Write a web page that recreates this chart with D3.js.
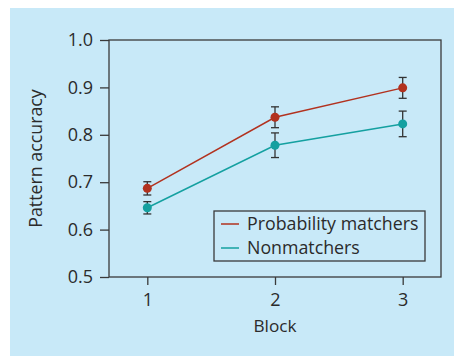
<!DOCTYPE html>
<html>
<head>
<meta charset="utf-8">
<script src="https://cdn.jsdelivr.net/npm/d3@7"></script>
<style>
  body { margin: 0; background: #fff; }
  svg text { font-family: "Open Sans", "DejaVu Sans", sans-serif; fill: #2b2b2b; }
</style>
</head>
<body>
<svg id="chart" width="454" height="356"></svg>
<script>
// chart data
var blocks = [1, 2, 3]
var matchers = [0.687, 0.837, 0.899]
var matchersErr = [0.014, 0.022, 0.022]
var nonmatchers = [0.646, 0.778, 0.823]
var nonmatchersErr = [0.013, 0.026, 0.027]
var yTicks = [0.5, 0.6, 0.7, 0.8, 0.9, 1.0]
var seriesNames = ["Probability matchers", "Nonmatchers"]
var seriesColors = ["#b2321f", "#14a0a0"]

var svg = d3.select("#chart");

// light blue panel
svg.append("rect")
    .attr("x", 10).attr("y", 8)
    .attr("width", 444).attr("height", 348)
    .attr("fill", "#c8e9f8");

var plotLeft = 109, plotRight = 441, plotTop = 40, plotBottom = 277;

var x = d3.scaleLinear().domain([0.7, 3.3]).range([plotLeft, plotRight]);
var y = d3.scaleLinear().domain([0.5, 1.0]).range([plotBottom, plotTop]);

// frame
svg.append("rect")
    .attr("x", plotLeft).attr("y", plotTop)
    .attr("width", plotRight - plotLeft).attr("height", plotBottom - plotTop)
    .attr("fill", "none")
    .attr("stroke", "#3a3a3a")
    .attr("stroke-width", 1.3);

var yAxis = svg.append("g")
    .attr("transform", "translate(" + plotLeft + ",0)")
    .call(d3.axisLeft(y).tickValues(yTicks).tickFormat(d3.format(".1f")).tickSize(9).tickPadding(7));

var xAxis = svg.append("g")
    .attr("transform", "translate(0," + plotBottom + ")")
    .call(d3.axisBottom(x).tickValues(blocks).tickFormat(d3.format("d")).tickSize(8).tickPadding(8));

[yAxis, xAxis].forEach(function(g) {
    g.select(".domain").remove();
    g.selectAll("line").attr("stroke", "#3a3a3a").attr("stroke-width", 1.3);
    g.selectAll("text").attr("font-size", 18).attr("fill", "#2b2b2b")
        .style("font-family", "'Open Sans', sans-serif");
});

// axis titles
svg.append("text")
    .attr("x", x(2)).attr("y", 332)
    .attr("text-anchor", "middle")
    .attr("font-size", 17.2)
    .text("Block");

svg.append("text")
    .attr("transform", "translate(42," + ((plotTop + plotBottom) / 2) + ") rotate(-90)")
    .attr("text-anchor", "middle")
    .attr("font-size", 17.8)
    .text("Pattern accuracy");

var series = [
    { values: matchers, err: matchersErr, color: seriesColors[0] },
    { values: nonmatchers, err: nonmatchersErr, color: seriesColors[1] }
];

var line = d3.line()
    .x(function(d, i) { return x(blocks[i]); })
    .y(function(d) { return y(d); });

series.forEach(function(s) {
    svg.append("path")
        .datum(s.values)
        .attr("d", line)
        .attr("fill", "none")
        .attr("stroke", s.color)
        .attr("stroke-width", 1.5);

    var bars = svg.append("g");
    s.values.forEach(function(v, i) {
        var cx = x(blocks[i]);
        var y0 = y(v - s.err[i]), y1 = y(v + s.err[i]);
        bars.append("line").attr("x1", cx).attr("x2", cx).attr("y1", y0).attr("y2", y1);
        bars.append("line").attr("x1", cx - 4).attr("x2", cx + 4).attr("y1", y0).attr("y2", y0);
        bars.append("line").attr("x1", cx - 4).attr("x2", cx + 4).attr("y1", y1).attr("y2", y1);
    });
    bars.selectAll("line").attr("stroke", "#333").attr("stroke-width", 1.3);

    svg.selectAll(null)
        .data(s.values)
        .enter().append("circle")
        .attr("cx", function(d, i) { return x(blocks[i]); })
        .attr("cy", function(d) { return y(d); })
        .attr("r", 4.5)
        .attr("fill", s.color);
});

// legend
var legend = svg.append("g");
legend.append("rect")
    .attr("x", 214).attr("y", 211)
    .attr("width", 211).attr("height", 50)
    .attr("fill", "none")
    .attr("stroke", "#3a3a3a")
    .attr("stroke-width", 1.3);

seriesNames.forEach(function(name, i) {
    var ly = 224 + i * 24;
    legend.append("line")
        .attr("x1", 221).attr("x2", 239)
        .attr("y1", ly).attr("y2", ly)
        .attr("stroke", seriesColors[i])
        .attr("stroke-width", 1.5);
    legend.append("text")
        .attr("x", 247).attr("y", ly)
        .attr("dy", "0.35em")
        .attr("font-size", 17.8)
        .text(name);
});
</script>
</body>
</html>
